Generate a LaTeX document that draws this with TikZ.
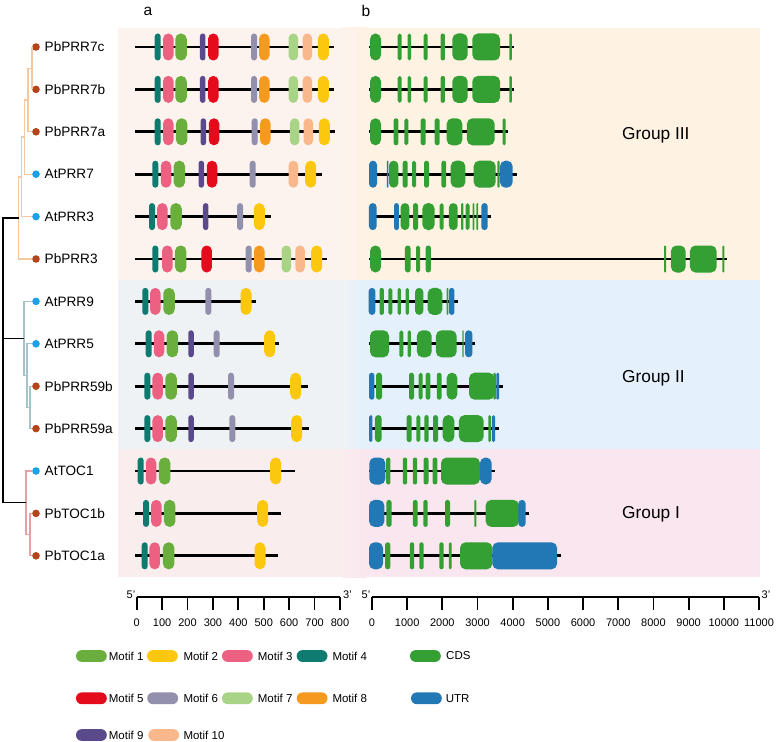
\documentclass[tikz,border=0pt]{standalone}
\usepackage{fontspec}
\setmainfont{Liberation Sans}
\definecolor{pb}{HTML}{B5441A}
\definecolor{at}{HTML}{1DA1E6}
\definecolor{cthree}{HTML}{F5C99E}
\definecolor{ctwo}{HTML}{A7C3CA}
\definecolor{cone}{HTML}{E79FA6}
\definecolor{gthreea}{HTML}{FDF3EE}
\definecolor{gthreeb}{HTML}{FEF2E3}
\definecolor{gtwoa}{HTML}{EEF2F5}
\definecolor{gtwob}{HTML}{E4F0FB}
\definecolor{gonea}{HTML}{FAEDEE}
\definecolor{goneb}{HTML}{FAE6EE}
\definecolor{mone}{HTML}{6AAF3D}
\definecolor{mtwo}{HTML}{FCC80F}
\definecolor{mthree}{HTML}{EC6181}
\definecolor{mfour}{HTML}{0E7B70}
\definecolor{mfive}{HTML}{E30B1C}
\definecolor{msix}{HTML}{9290AC}
\definecolor{mseven}{HTML}{A9D486}
\definecolor{meight}{HTML}{F59A1E}
\definecolor{mnine}{HTML}{5B4A8B}
\definecolor{mten}{HTML}{F8B88B}
\definecolor{cds}{HTML}{34A033}
\definecolor{utr}{HTML}{2278B5}
\usetikzlibrary{calc}

% one motif / exon box: colour, centre x, width, row y
\newcommand{\pill}[4]{%
	\pgfmathsetmacro{\prad}{min(#3/2-0.05,5.5)}%
	\fill[#1,rounded corners=\prad pt] ({#2-#3/2},{#4-13.5}) rectangle ({#2+#3/2},{#4+13.5});}

\begin{document}
\begin{tikzpicture}[x=1pt,y=-1pt,
	dot/.style={circle,inner sep=0pt,minimum size=7.6pt},
	treeline/.style={line width=1.3pt},
	t3/.style={treeline,draw=cthree},
	t2/.style={treeline,draw=ctwo},
	t1/.style={treeline,draw=cone},
	bb/.style={line width=2.7pt},
	scalebar/.style={line width=1.8pt},
	lab/.style={font=\fontsize{13.6}{15}\selectfont,inner sep=0pt,anchor=west},
	grp/.style={font=\fontsize{17.3}{19}\selectfont,inner sep=0pt,anchor=west},
	tick/.style={font=\fontsize{11}{13}\selectfont,inner sep=0pt},
	leg/.style={font=\fontsize{11.5}{13}\selectfont,inner sep=0pt,anchor=west}]
	\useasboundingbox (0,0) rectangle (778,741);
	
	% group backgrounds
	\foreach \ya/\yb/\ca/\cb in {28/280/gthreea/gthreeb, 280/449/gtwoa/gtwob, 449/577/gonea/goneb} {
		\fill[\ca] (118,\ya) rectangle (342.5,\yb);
		\shade[left color=\ca,right color=\cb] (342,\ya) rectangle (366.5,\yb);
		\fill[\cb] (366,\ya) rectangle (760,\yb);
	}
	\node[grp] (gIII) at (622,135) {Group III};
	\node[grp] (gII) at (622,378) {Group II};
	\node[grp] (gI) at (622,514) {Group I};
	\node[font=\fontsize{15.5}{17}\selectfont] (pa) at (148,11) {a};
	\node[font=\fontsize{15.5}{17}\selectfont] (pbb) at (366,11) {b};
	
	% leaves
	\foreach \g/\c [count=\ii from 0] in {PbPRR7c/pb, PbPRR7b/pb, PbPRR7a/pb, AtPRR7/at, AtPRR3/at, PbPRR3/pb, AtPRR9/at, AtPRR5/at, PbPRR59b/pb, PbPRR59a/pb, AtTOC1/at, PbTOC1b/pb, PbTOC1a/pb} {
		\node[dot,fill=\c] (d\ii) at (36,47+42.4*\ii) {};
		\node[lab] (\g) at (44.5,47+42.4*\ii) {\g};
	}
	
	% tree
	\coordinate (n1) at (32,68.2);
	\coordinate (n2) at (28,100);
	\coordinate (n3) at (24.5,137.1);
	\coordinate (n4) at (21.5,176.9);
	\coordinate (n5) at (18.5,218);
	\coordinate (m1) at (30,407.4);
	\coordinate (m2) at (27,375.6);
	\coordinate (m3) at (24,338.5);
	\coordinate (k1) at (30,534.6);
	\coordinate (k2) at (26,502.8);
	\coordinate (r) at (3,338.5);
	\draw[t3] (d0) -| (n1) |- (d1);
	\draw[t3] (n1) -| (n2) |- (d2);
	\draw[t3] (n2) -| (n3) |- (d3);
	\draw[t3] (n3) -| (n4) |- (d4);
	\draw[t3] (n4) -| (n5) |- (d5);
	\draw[t2] (d8) -| (m1) |- (d9);
	\draw[t2] (d7) -| (m2) |- (m1);
	\draw[t2] (d6) -| (m3) |- (m2);
	\draw[t1] (d11) -| (k1) |- (d12);
	\draw[t1] (d10) -| (k2) |- (k1);
	\draw[treeline] (n5) -| (r) |- (k2);
	\draw[treeline] (r) -- (m3);
	
	% a: motifs
	\foreach \y in {47,89.4} {
		\draw[bb] (135,\y) -- (334,\y);
		\foreach \c/\x/\w in {mfour/157.7/6, mthree/168.3/10.5, mone/181/11.5, mnine/202.7/5.5, mfive/213.3/10.5, msix/254/6, meight/264.3/10.5, mseven/293.3/9.5, mten/307.3/9.5, mtwo/323.3/11}
		\pill{\c}{\x}{\w}{\y};
	}
	\draw[bb] (135,131.8) -- (335,131.8);
	\foreach \c/\x/\w in {mfour/157.7/6, mthree/168.3/10.5, mone/181.7/11.5, mnine/203.3/5.5, mfive/214/10.5, msix/254.7/6, meight/265.3/10.5, mseven/294.7/9.5, mten/308.3/9.5, mtwo/324.3/11}
	\pill{\c}{\x}{\w}{131.8};
	\draw[bb] (135,174.2) -- (322.3,174.2);
	\foreach \c/\x/\w in {mfour/155.3/6, mthree/166/10.5, mone/179.3/11.5, mnine/201.3/5.5, mfive/212/10.5, msix/252.7/6, mten/293.3/9.5, mtwo/310.7/11}
	\pill{\c}{\x}{\w}{174.2};
	\draw[bb] (135,216.6) -- (270.7,216.6);
	\foreach \c/\x/\w in {mfour/152/6, mthree/162.3/10.5, mone/176/11.5, mnine/205.7/5.5, msix/240/6, mtwo/259.3/11}
	\pill{\c}{\x}{\w}{216.6};
	\draw[bb] (135,259) -- (327.3,259);
	\foreach \c/\x/\w in {mfour/155.3/6, mthree/167.3/10.5, mone/180.7/11.5, mfive/206.7/10.5, msix/248.7/6, meight/259.3/10.5, mseven/286.3/9.5, mten/300/9.5, mtwo/316.7/11}
	\pill{\c}{\x}{\w}{259};
	\draw[bb] (135,301.4) -- (256,301.4);
	\foreach \c/\x/\w in {mfour/145.3/6, mthree/155.3/10.5, mone/169/11.5, msix/208.3/6, mtwo/246/11}
	\pill{\c}{\x}{\w}{301.4};
	\draw[bb] (135,343.8) -- (279.3,343.8);
	\foreach \c/\x/\w in {mfour/148.7/6, mthree/159/10.5, mone/172.3/11.5, mnine/191/5.5, msix/216.7/6, mtwo/269.7/11}
	\pill{\c}{\x}{\w}{343.8};
	\draw[bb] (135,386.2) -- (308.3,386.2);
	\foreach \c/\x/\w in {mfour/147.3/6, mthree/157.7/10.5, mone/171/11.5, mnine/191/5.5, msix/231/6, mtwo/295.7/11}
	\pill{\c}{\x}{\w}{386.2};
	\draw[bb] (135,428.6) -- (309,428.6);
	\foreach \c/\x/\w in {mfour/147.3/6, mthree/157.7/10.5, mone/171/11.5, mnine/191/5.5, msix/232.3/6, mtwo/296.7/11}
	\pill{\c}{\x}{\w}{428.6};
	\draw[bb] (135,471) -- (295,471);
	\foreach \c/\x/\w in {mfour/140.7/6, mthree/151/10.5, mone/164.7/11.5, mtwo/275.7/11}
	\pill{\c}{\x}{\w}{471};
	\draw[bb] (135,513.4) -- (281,513.4);
	\foreach \c/\x/\w in {mfour/146/6, mthree/156.3/10.5, mone/169.7/11.5, mtwo/262.7/11}
	\pill{\c}{\x}{\w}{513.4};
	\draw[bb] (135,555.8) -- (278.3,555.8);
	\foreach \c/\x/\w in {mfour/144.7/6, mthree/154.7/10.5, mone/168.7/11.5, mtwo/260/11}
	\pill{\c}{\x}{\w}{555.8};
	
	% b: gene structure
	\foreach \y in {47,89.4} {
		\draw[bb] (369,\y) -- (514.3,\y);
		\foreach \c/\x/\w in {cds/375.5/11, cds/399.7/4, cds/409.3/3.5, cds/425.7/4, cds/442.8/4.3, cds/460/15.3, cds/486.2/27.7, cds/510.5/2.5}
		\pill{\c}{\x}{\w}{\y};
	}
	\draw[bb] (369,131.8) -- (508.3,131.8);
	\foreach \c/\x/\w in {cds/375.5/11, cds/396/4.7, cds/406.3/4, cds/423.2/5, cds/437.2/5, cds/454.5/15.7, cds/480.8/27.7, cds/504.2/3}
	\pill{\c}{\x}{\w}{131.8};
	\draw[bb] (369,174.2) -- (516.7,174.2);
	\foreach \c/\x/\w in {utr/373/8, utr/387.7/1.5, cds/393.7/9.3, cds/405.2/5, cds/414/4, cds/426.5/5, cds/443.8/4.7, cds/458/14.7, cds/484.7/22, cds/498.5/2.3, utr/506.3/12.7}
	\pill{\c}{\x}{\w}{174.2};
	\draw[bb] (369,216.6) -- (491,216.6);
	\foreach \c/\x/\w in {utr/372.8/7.7, utr/396.5/4.7, cds/405/8.7, cds/415.5/5, cds/428.5/12.3, cds/441.7/4, cds/453.3/8.7, cds/462.3/2.2, cds/467.5/4, cds/473.5/1.7, cds/477.3/1.7, utr/484.5/6.3}
	\pill{\c}{\x}{\w}{216.6};
	\draw[bb] (369,259) -- (727,259);
	\foreach \c/\x/\w in {cds/375.5/11, cds/407.8/5.7, cds/418/4, cds/428.3/5.3, cds/665/2, cds/678.3/14.7, cds/703.3/26.7, cds/723.3/2}
	\pill{\c}{\x}{\w}{259};
	\draw[bb] (369,301.4) -- (457.7,301.4);
	\foreach \c/\x/\w in {utr/372/6.7, cds/381.7/4.3, cds/390.3/4, cds/399.3/3.3, cds/407.3/3.3, cds/419.2/8.3, cds/435/14.7, cds/447.5/1.7, utr/451.7/5.3}
	\pill{\c}{\x}{\w}{301.4};
	\draw[bb] (369,343.8) -- (475,343.8);
	\foreach \c/\x/\w in {cds/379.5/19, cds/401.3/4, cds/409.3/3.3, cds/424.3/14.7, cds/446.3/20.7, cds/463/1.3, utr/468.7/7.3}
	\pill{\c}{\x}{\w}{343.8};
	\draw[bb] (369,386.2) -- (502.7,386.2);
	\foreach \c/\x/\w in {utr/371.7/5.3, cds/379/6, cds/411.5/5, cds/420.7/4, cds/428/4.7, cds/439.2/4.7, cds/452/10.7, cds/481.7/25.3, cds/494.5/2.5, utr/497.7/2.7}
	\pill{\c}{\x}{\w}{386.2};
	\draw[bb] (369,428.6) -- (499.3,428.6);
	\foreach \c/\x/\w in {utr/370.8/3.3, cds/378.3/6.7, cds/409.2/5, cds/418.3/4, cds/426.5/4.3, cds/435.5/5, cds/448.5/11.7, cds/471.3/24.7, cds/489.5/2.5, utr/493.5/3.3}
	\pill{\c}{\x}{\w}{428.6};
	\draw[bb] (369,471) -- (495,471);
	\foreach \c/\x/\w in {utr/377.3/16, cds/388.3/4.3, cds/405/4.3, cds/415/4.3, cds/426/5, cds/435/4.7, cds/460.5/39, utr/485.8/11.7}
	\pill{\c}{\x}{\w}{471};
	\draw[bb] (369,513.4) -- (529,513.4);
	\foreach \c/\x/\w in {utr/376.7/15.3, cds/389/5.3, cds/415.3/4.7, cds/425.5/4.3, cds/447.5/5, cds/475.3/2, cds/502.3/33.3, utr/522/7.3}
	\pill{\c}{\x}{\w}{513.4};
	\draw[bb] (369,555.8) -- (561,555.8);
	\foreach \c/\x/\w in {utr/376/14, cds/387.7/5.3, cds/412/4.3, cds/421.5/4.3, cds/441.5/4.3, cds/450.3/2.7, cds/476.2/32.3, utr/524.7/64.7}
	\pill{\c}{\x}{\w}{555.8};
	
	% scale bars
	\draw[scalebar] (136.7,597) -- (340,597);
	\foreach \t in {0,...,8} {
		\draw[scalebar] (136.7+25.41*\t,597) -- ++(0,13);
		\pgfmathtruncatemacro{\v}{100*\t}
		\node[tick] (ta\t) at (136.7+25.41*\t,623) {\v};
	}
	\node[tick] (a5) at (131,595) {5'};
	\node[tick] (a3) at (347.5,595) {3'};
	\draw[scalebar] (372,597) -- (759,597);
	\foreach \t in {0,...,11} {
		\draw[scalebar] (372+35.18*\t,597) -- ++(0,13);
		\pgfmathtruncatemacro{\v}{1000*\t}
		\node[tick] (tb\t) at (372+35.18*\t,623) {\v};
	}
	\node[tick] (b5) at (366,595) {5'};
	\node[tick] (b3) at (766,595) {3'};
	
	% legend
	\foreach \c/\x/\tx/\y/\t/\n in {mone/76/108.7/656/Motif 1/l1, mtwo/147/183.3/656/Motif 2/l2, mthree/222/257.7/656/Motif 3/l3, mfour/296.7/332.3/656/Motif 4/l4,
		mfive/76/108.7/698.3/Motif 5/l5, msix/147.3/183.3/698.3/Motif 6/l6, mseven/222/257.7/698.3/Motif 7/l7, meight/296.7/332.3/698.3/Motif 8/l8,
		mnine/76/108.7/735/Motif 9/l9, mten/148.3/183.3/735/Motif 10/l10, cds/410/446/656/CDS/lcds, utr/411/445.7/698.3/UTR/lutr} {
		\fill[\c,rounded corners=5.8pt] (\x,\y-5.9) rectangle (\x+30.8,\y+5.9);
		\node[leg] (\n) at (\tx,\y) {\t};
	}
\end{tikzpicture}
\end{document}
